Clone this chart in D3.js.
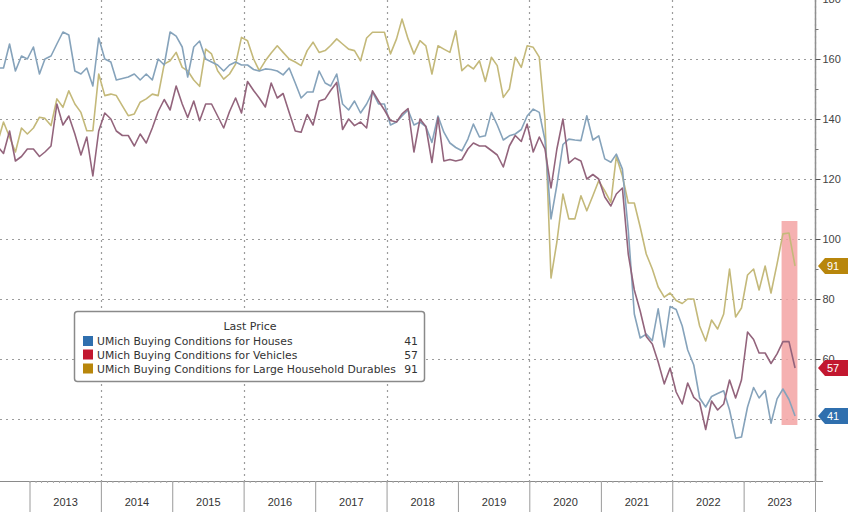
<!DOCTYPE html>
<html><head><meta charset="utf-8">
<script src="https://cdn.jsdelivr.net/npm/d3@7"></script>
<style>body{margin:0;background:#fff}svg{display:block}</style>
</head><body><svg id="c" width="848" height="512"></svg>
<script>
// ---- data ----
const seriesNames = ["UMich Buying Conditions for Houses","UMich Buying Conditions for Vehicles","UMich Buying Conditions for Large Household Durables"];
const lastValues = ["41","57","91"];
const legendTitle = "Last Price";
const firstMonth = [2012, 6]; // July 2012, monthly observations
const houses = [
157,157,165,156,161,160,164,155,160,161,
165,169,168,156,155,157,151,167,160,159,
153,153.5,154,155,153,155,153,160,158,169,
167.6,164,154,164,166,160,159,158,156,158,
159,158,158,156.5,156,156.7,156.5,156,154.7,157,
152,147,149,149,156,152,151,155,145,143,
146,142,145,149,145,145,138,139,141,143,
138,139,137.5,132.2,141,135.6,132,130.5,129.4,133.3,
138.3,134,134.4,142.2,138,133,134.4,135,136.5,141,
143.3,142.2,133,106.7,118,131.5,133.3,133,132.8,141.1,
133,134.4,126.7,125.6,128.3,123.3,103,75,67,68.3,
66.1,76.7,64,77.5,76.5,71,63,58,47,44,
47.5,48.5,49.4,43,33.6,34,44,50.5,47,49.5,
38.6,46.7,50,46.5,41];
const vehicles = [
131,128.5,136,126,127.5,130,130,127.5,129,131,
145,138,141,135,128,134,121,136,142,140,
136,134.5,134.5,131,135,132,137,142.5,146.5,143,
151,145,140.5,146,139.4,145,145,141,137,142.5,
147,142,152.5,149.5,147,144,152,147,148.5,142.2,
136,135.6,141.5,138,146,146.7,149.5,152.2,136.5,140,
137.8,139,137,149.4,146,143,139.5,139,141.7,143.5,
129,140,137.5,125.5,140.5,126,126.5,126,126.5,130,
132,131,131,129.5,128,124,131,134.5,132.5,138.3,
129,134,130,117,130,140,125.3,127,126,120,
121.5,120,114,111,115,117,95,83,76,67.5,
65,59,51.7,57,49,45,52,47.2,45.5,36.5,
46,43,45,53,47,53,69,66.5,62,62,
58.5,61.7,65.8,65.8,57];
const durables = [
132,139,134,129,137,135,137,140.6,140.2,137.8,
146.7,143.9,149.4,145,142.2,136.1,136.1,155,147.8,148.3,
147.8,144.4,141.1,141.7,145.6,146.7,148.3,147.8,158.3,159.4,
162.2,157.2,156.1,153,150.9,163.3,161.7,156.1,153.3,155,
158.3,167.2,166.1,160,156.1,159.4,162,164.4,162.2,160,
159,157.8,162.8,165.6,162.2,162.8,164.5,166.7,165,163.3,
162.8,159.4,167,168.9,168.9,168.9,161.7,166.7,173.3,166.7,
161.7,166.1,164.4,155,164.4,163.3,162.2,169.4,156.1,158,
156.7,159.4,152.5,160.6,157.8,147.2,150,160.6,157.2,164.4,
163.9,160.6,140,87,99,115,106.7,106.7,114.4,109.4,
114.4,119.4,116,112.2,127.5,121,112,112,104,95,
90,84,80.6,82,79.5,78.5,80,80,71,66,
73,70,75,90,74,77,88,90,83,91,
82,91.7,101.7,102,91];
const yTickValues = [40,60,80,100,120,140,160,180];
const yTickLabels = ["40","60","80","100","120","140","160","180"];
const yMinorValues = [30,50,70,90,110,130,150,170];
const yearLabels = ["2013","2014","2015","2016","2017","2018","2019","2020","2021","2022","2023"];
const highlight = {from:"2023-07-14", to:"2023-10-03", lo:38, hi:106};

// ---- style ----
const lineColors = ["#86a3bb","#93647c","#c4b97a"];
const keyColors = ["#2f6fae","#c2172f","#b8860b"];
const W=848, H=512, plotR=815, axisY=481;

const svg = d3.select("#c");
const x = d3.scaleTime().domain([new Date(2013,0,1), new Date(2024,0,1)]).range([29.5, plotR]);
const y = d3.scaleLinear().domain([40,160]).range([419,59]);
const dates = houses.map((_,i)=>new Date(firstMonth[0], firstMonth[1]+i, 21));
const yearStarts = yearLabels.map(s=>new Date(+s,0,1)).concat([new Date(2024,0,1)]);

svg.append("defs").append("clipPath").attr("id","plot").append("rect")
  .attr("x",0).attr("y",0).attr("width",plotR).attr("height",axisY);

// gridlines
const grid = svg.append("g").attr("stroke","#9c9c9c").attr("stroke-width",1.2).attr("stroke-dasharray","2,4");
yTickValues.forEach(v=>{
  grid.append("line").attr("x1",0).attr("x2",plotR).attr("y1",Math.round(y(v))+0.5).attr("y2",Math.round(y(v))+0.5);
});
yearStarts.filter(d=>d.getFullYear()%2===0).forEach(d=>{
  const xx=Math.round(x(d))+0.5;
  grid.append("line").attr("x1",xx).attr("x2",xx).attr("y1",0).attr("y2",axisY);
});

// highlight band
svg.append("rect")
  .attr("x",x(new Date(highlight.from))).attr("width",x(new Date(highlight.to))-x(new Date(highlight.from)))
  .attr("y",y(highlight.hi)).attr("height",y(highlight.lo)-y(highlight.hi))
  .attr("fill","#f3a3a3").attr("opacity",0.85);

// lines
const gl = svg.append("g").attr("clip-path","url(#plot)");
const line = d3.line().x((d,i)=>x(dates[i])).y(d=>y(d));
[[durables,2],[houses,0],[vehicles,1]].forEach(([s,k])=>{
  gl.append("path").datum(s).attr("d",line).attr("fill","none")
    .attr("stroke",lineColors[k]).attr("stroke-width",1.6).attr("stroke-linejoin","round");
});

// right axis
svg.append("line").attr("x1",plotR+0.5).attr("x2",plotR+0.5).attr("y1",0).attr("y2",axisY)
  .attr("stroke","#8f8f8f").attr("stroke-width",1.5);
const ya = svg.append("g").attr("transform",`translate(${plotR+0.5},0)`)
  .call(d3.axisRight(y).tickValues(yTickValues).tickSize(5).tickPadding(2)
    .tickFormat((d,i)=>yTickLabels[i]));
ya.select(".domain").remove();
ya.selectAll("line").attr("stroke","#555");
ya.selectAll("text").attr("font-family","Liberation Sans, Arial, sans-serif").attr("font-size",11).attr("fill","#444");
const ym = svg.append("g").attr("transform",`translate(${plotR+0.5},0)`)
  .call(d3.axisRight(y).tickValues(yMinorValues).tickSize(3).tickFormat(""));
ym.select(".domain").remove();
ym.selectAll("line").attr("stroke","#777");

// x axis
svg.append("line").attr("x1",0).attr("x2",plotR+8).attr("y1",axisY+0.5).attr("y2",axisY+0.5)
  .attr("stroke","#8a8a8a").attr("stroke-width",1.2);
const xa = svg.append("g").attr("transform",`translate(0,${axisY})`)
  .call(d3.axisBottom(x).tickValues(yearStarts).tickSize(H-axisY).tickFormat(""));
xa.select(".domain").remove();
xa.selectAll("line").attr("stroke","#9a9a9a");
const xm = svg.append("g").attr("transform",`translate(0,${axisY})`)
  .call(d3.axisBottom(x).ticks(d3.timeMonth.every(1)).tickSize(2).tickFormat(""));
xm.select(".domain").remove();
xm.selectAll("line").attr("stroke","#aaa");
const mids = yearLabels.map(s=>new Date(+s,6,2));
const xl = svg.append("g").attr("transform",`translate(0,${axisY})`)
  .call(d3.axisBottom(x).tickValues(mids).tickSize(0).tickPadding(17).tickFormat((d,i)=>yearLabels[i]));
xl.select(".domain").remove();
xl.selectAll("text").attr("font-family","Liberation Sans, Arial, sans-serif").attr("font-size",11).attr("fill","#333");

// last value tags
const tagVals = [houses[houses.length-1], vehicles[vehicles.length-1], durables[durables.length-1]];
tagVals.forEach((v,k)=>{
  const cy=y(v), h=8;
  svg.append("path").attr("d",`M${plotR+3},${cy} L${plotR+10},${cy-h} L${W},${cy-h} L${W},${cy+h} L${plotR+10},${cy+h} Z`)
    .attr("fill",keyColors[k]);
  svg.append("text").attr("x",plotR+12).attr("y",cy+4).text(lastValues[k])
    .attr("font-family","Liberation Sans, Arial, sans-serif").attr("font-size",11).attr("fill","#fff");
});

// legend
const lg = svg.append("g");
lg.append("rect").attr("x",74.5).attr("y",311.5).attr("width",350).attr("height",70).attr("rx",3)
  .attr("fill","#fff").attr("stroke","#8a8a8a").attr("stroke-width",1.5);
const lf = "DejaVu Sans, Verdana, sans-serif";
lg.append("text").attr("x",250).attr("y",330).attr("text-anchor","middle").text(legendTitle)
  .attr("font-family",lf).attr("font-size",11).attr("fill","#333");
const rowY=[341,354.5,368.5];
seriesNames.forEach((n,k)=>{
  lg.append("rect").attr("x",83).attr("y",rowY[k]-5).attr("width",10).attr("height",10).attr("fill",keyColors[k]);
  lg.append("text").attr("x",97).attr("y",rowY[k]+4).text(n).attr("font-family",lf).attr("font-size",10.8).attr("fill","#333");
  lg.append("text").attr("x",418).attr("y",rowY[k]+4).attr("text-anchor","end").text(lastValues[k])
    .attr("font-family",lf).attr("font-size",10.8).attr("fill","#333");
});
</script></body></html>
